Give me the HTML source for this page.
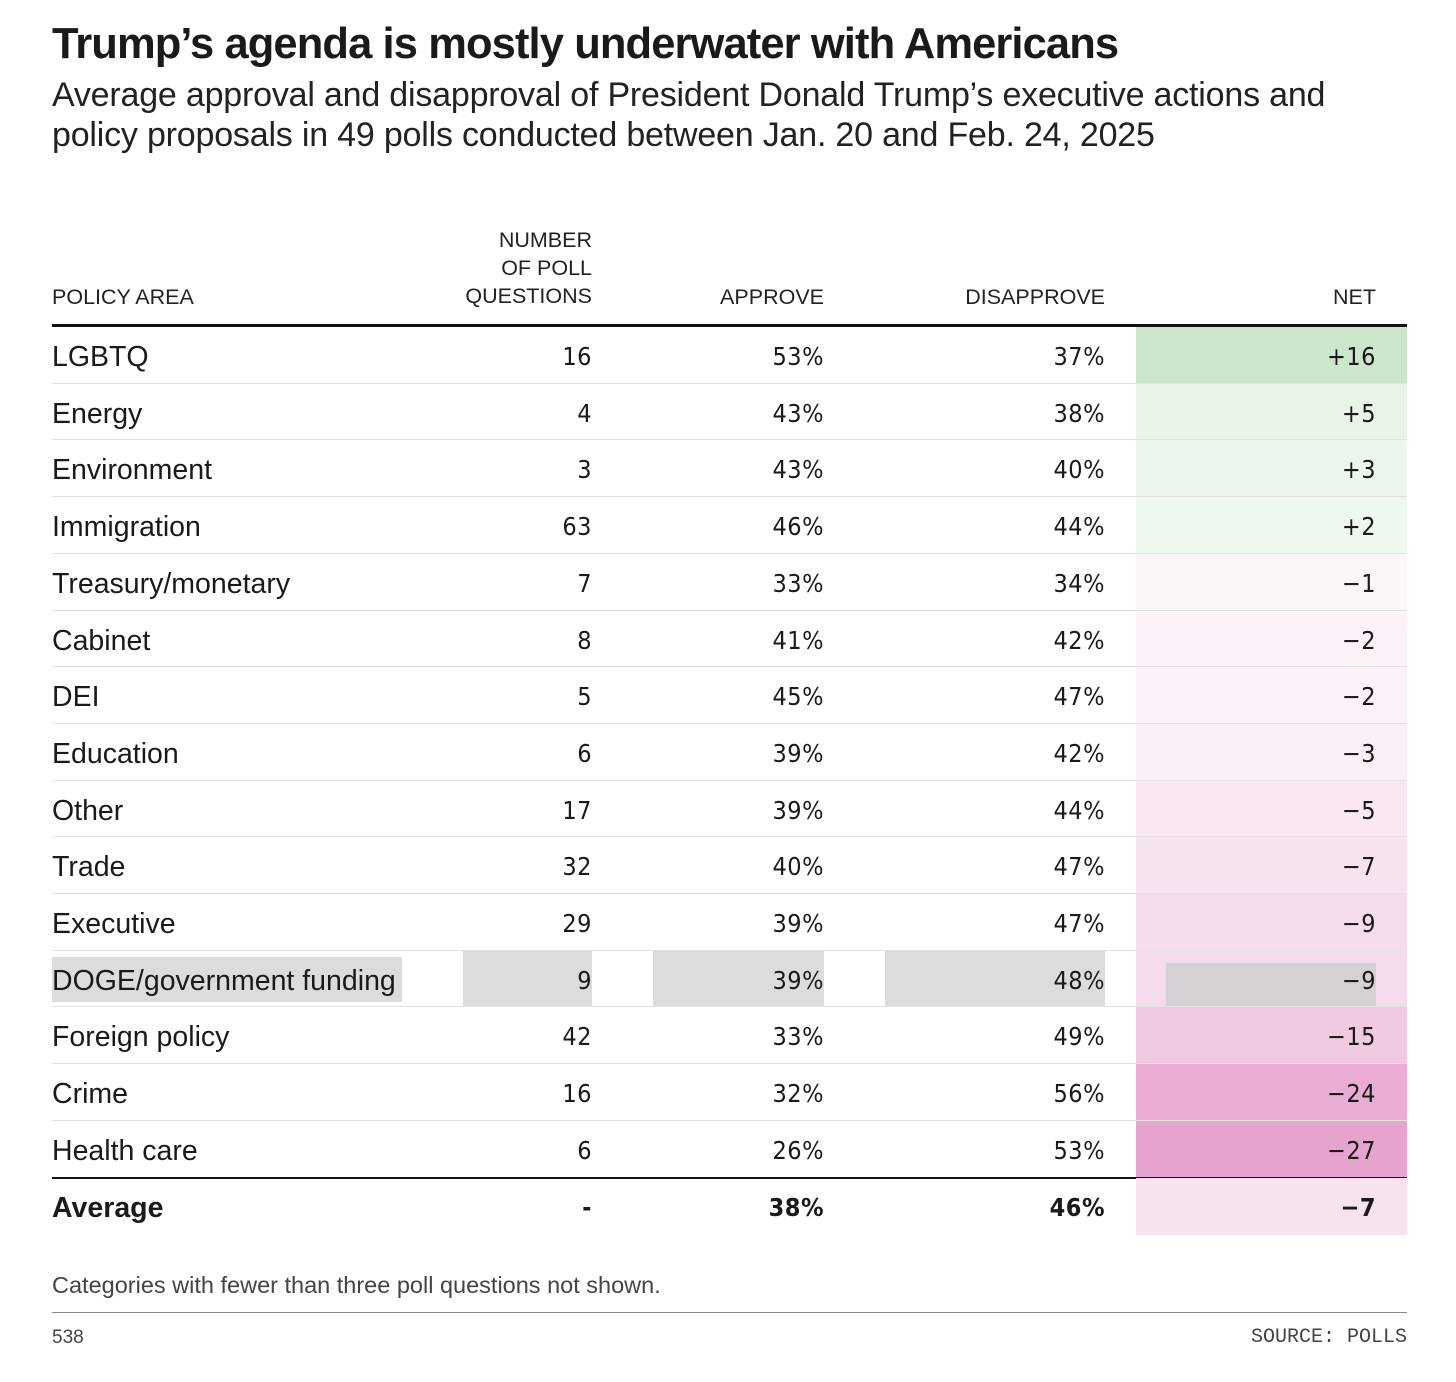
<!DOCTYPE html>
<html><head><meta charset="utf-8">
<style>
body{margin:0;background:#fff;width:1456px;height:1382px;position:relative;overflow:hidden;font-family:"Liberation Sans",sans-serif;color:#1a1a1a}
.a{position:absolute;white-space:nowrap}
.num{font-family:"Liberation Sans Narrow","DejaVu Sans Condensed","Liberation Mono",monospace;font-size:25px;letter-spacing:0.5px}
.hd{font-size:21.5px;line-height:28px;text-align:right;color:#222}
</style></head><body>
<div class="a" style="left:52px;top:20px;font-size:43.5px;font-weight:bold;letter-spacing:-0.9px">Trump’s agenda is mostly underwater with Americans</div>
<div class="a" style="left:52px;top:75px;font-size:34px;line-height:40px;color:#222;letter-spacing:-0.2px">Average approval and disapproval of President Donald Trump’s executive actions and<br>policy proposals in 49 polls conducted between Jan. 20 and Feb. 24, 2025</div>
<div class="a hd" style="left:52px;top:283px;text-align:left">POLICY AREA</div>
<div class="a hd" style="right:864px;top:226px">NUMBER<br>OF POLL<br>QUESTIONS</div>
<div class="a hd" style="right:632px;top:283px">APPROVE</div>
<div class="a hd" style="right:351px;top:283px">DISAPPROVE</div>
<div class="a hd" style="right:80px;top:283px">NET</div>
<div class="a" style="left:52px;top:324px;width:1355px;height:3px;background:#111"></div>
<div id="rows"></div>
<div class="a" style="left:52px;top:1272px;font-size:23.5px;color:#444">Categories with fewer than three poll questions not shown.</div>
<div class="a" style="left:52px;top:1312px;width:1355px;height:1px;background:#888"></div>
<div class="a" style="left:52px;top:1327px;font-size:19px;color:#444">538</div>
<div class="a" style="right:49px;top:1326px;font-size:20px;color:#444;font-family:'Liberation Mono',monospace">SOURCE: POLLS</div>
<script>
const areas=["LGBTQ","Energy","Environment","Immigration","Treasury/monetary","Cabinet","DEI","Education","Other","Trade","Executive","DOGE/government funding","Foreign policy","Crime","Health care"];
const counts=[16,4,3,63,7,8,5,6,17,32,29,9,42,16,6];
const approve=[53,43,43,46,33,41,45,39,39,40,39,39,33,32,26];
const disapprove=[37,38,40,44,34,42,47,42,44,47,47,48,49,56,53];
const net=[16,5,3,2,-1,-2,-2,-3,-5,-7,-9,-9,-15,-24,-27];
const avgApprove=38, avgDisapprove=46, avgNet=-7;
const highlightRow="DOGE/government funding";
const c=document.getElementById('rows');
const top0=327,rh=56.7;
function color(v){
  if(v>0){const t=Math.min(v/16,1);const r=Math.round(244-(244-203)*t),g=Math.round(250-(250-230)*t),b=Math.round(244-(244-203)*t);return `rgb(${r},${g},${b})`;}
  const t=Math.min(-v/27,1);return `rgb(${Math.round(253-(253-230)*t)},${Math.round(248-(248-163)*t)},${Math.round(252-(252-205)*t)})`;
}
function fmtNet(v){return v>0?'+'+v:'\u2212'+(-v);}
function mk(html,style,name,cls){const d=document.createElement('div');d.className='a '+(cls||'');d.style.cssText=style;d.innerHTML=html;


c.appendChild(d);return d;}
function row(i,label,cnt,ap,dis,nv,bold){
  const y=top0+i*rh;const hl=label===highlightRow;
  const fw=bold?'font-weight:bold;':'';
  mk('',`left:1136px;top:${y}px;width:271px;height:${rh+0.5}px;background:${color(nv)}`,'net-cell-bg');
  if(hl){
    mk('',`left:52px;top:${y+6}px;width:350px;height:45px;background:#dcdcdc`,'highlight-label');
    mk('',`left:463px;top:${y}px;width:129px;height:${rh}px;background:#dcdcdc`,'highlight-count');
    mk('',`left:653px;top:${y}px;width:171px;height:${rh}px;background:#dcdcdc`,'highlight-approve');
    mk('',`left:885px;top:${y}px;width:220px;height:${rh}px;background:#dcdcdc`,'highlight-disapprove');
    mk('',`left:1166px;top:${y+12}px;width:210px;height:43px;background:#d6d0d5`,'highlight-net');
  }
  const ty=y+12;
  mk(label,`left:52px;top:${ty+2}px;font-size:28.5px;${fw}`,'policy-label');
  mk(cnt,`right:864px;top:${ty+3}px;${fw}`,'count-value','num');
  mk(ap+'%',`right:632px;top:${ty+3}px;${fw}`,'approve-value','num');
  mk(dis+'%',`right:351px;top:${ty+3}px;${fw}`,'disapprove-value','num');
  mk(fmtNet(nv),`right:80px;top:${ty+3}px;${fw}`,'net-value','num');
  if(!bold&&i<areas.length-1) mk('',`left:52px;top:${y+rh-1}px;width:1355px;height:1px;background:#e2e2e2`,'row-divider');
}
areas.forEach((a,i)=>row(i,a,counts[i],approve[i],disapprove[i],net[i],false));
const ay=top0+areas.length*rh;
mk('',`left:52px;top:${ay-1}px;width:1355px;height:2px;background:#111`,'average-rule');
row(areas.length,'Average','-',avgApprove,avgDisapprove,avgNet,true);
</script>
</body></html>
